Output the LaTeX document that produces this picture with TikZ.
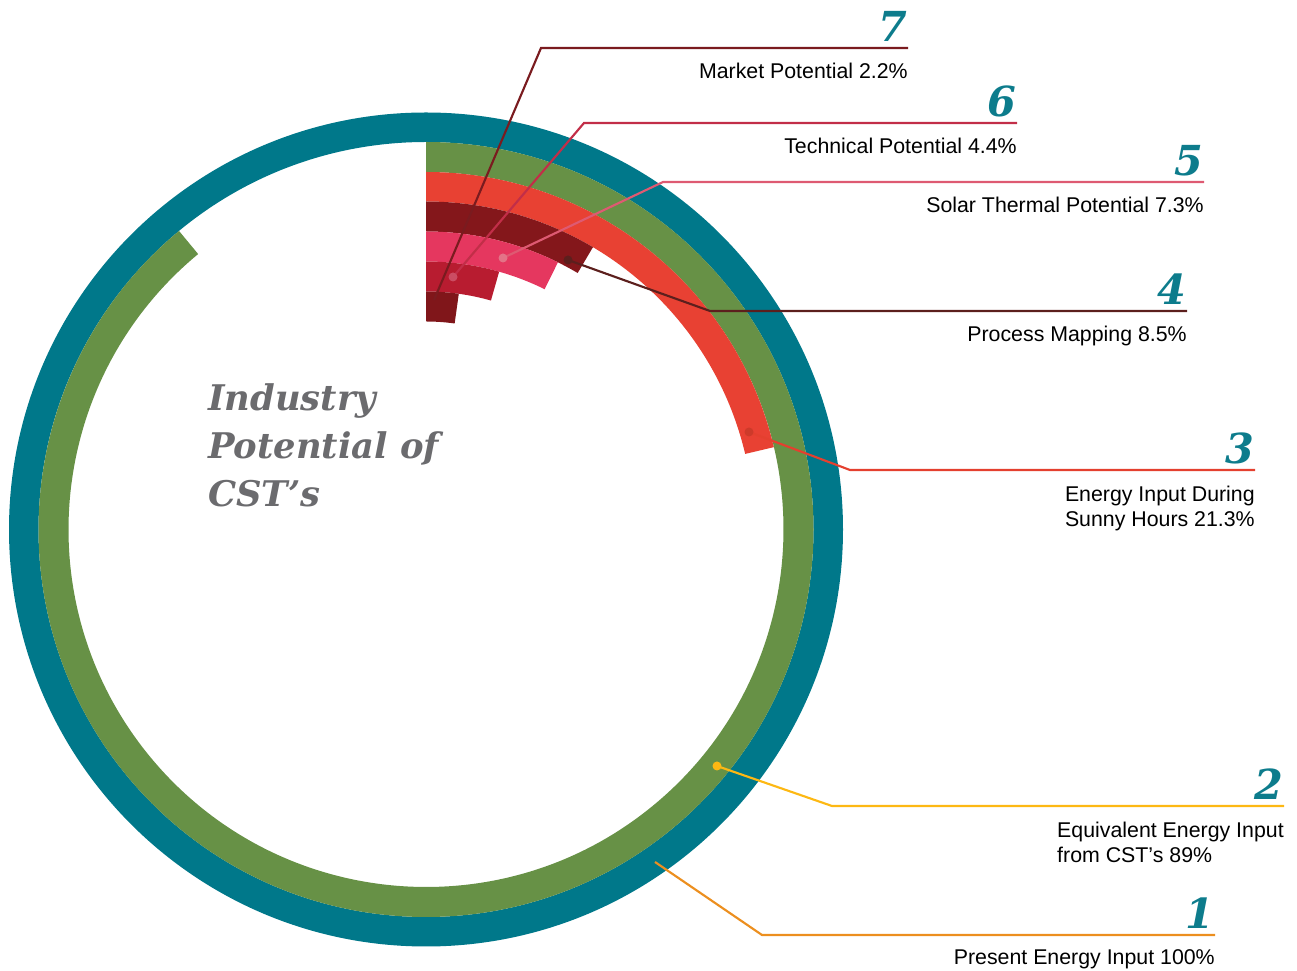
\documentclass[tikz,border=0pt]{standalone}
\usepackage{fontspec}
\setmainfont{Liberation Sans}
\newfontfamily\numfont{DejaVu Serif}

\definecolor{ringteal}{HTML}{00788A}
\definecolor{ringgreen}{HTML}{679146}
\definecolor{ringred}{HTML}{E84133}
\definecolor{ringmaroon}{HTML}{84171B}
\definecolor{ringpink}{HTML}{E5375F}
\definecolor{ringcrimson}{HTML}{B81C30}
\definecolor{ringdark}{HTML}{80161A}
\definecolor{numteal}{HTML}{0D7C8C}
\definecolor{titlegray}{HTML}{6B6B6E}
\definecolor{leadseven}{HTML}{7A1B1F}
\definecolor{leadsix}{HTML}{C22E48}
\definecolor{leadfive}{HTML}{DE5A72}
\definecolor{leadfour}{HTML}{5C1F1D}
\definecolor{leadthree}{HTML}{E4402F}
\definecolor{leadtwo}{HTML}{FDB813}
\definecolor{leadone}{HTML}{EC8F1F}

\begin{document}
\begin{tikzpicture}[x=0.75pt, y=0.75pt,
    lead/.style={line width=1.6pt},
    num/.style={anchor=base east, inner sep=0pt, text=numteal,
      font=\numfont\bfseries\itshape\fontsize{31}{31}\selectfont},
    lab/.style={anchor=north east, inner sep=0pt, align=left,
      font=\fontsize{16}{18.75}\selectfont}]
    \useasboundingbox (0,0) rectangle (1297,971);
    \coordinate (C) at (426,441.5);

    % リング
    \fill[ringteal, even odd rule] (C) circle (417) (C) circle (387.5);
    \fill[ringgreen] (C) ++(90:387.5) arc (90:-230.4:387.5) -- ++(-230.4:-30) arc (-230.4:90:357.5) -- cycle;
    \fill[ringred] (C) ++(90:357.5) arc (90:13.32:357.5) -- ++(13.32:-29.5) arc (13.32:90:328) -- cycle;
    \fill[ringmaroon] (C) ++(90:328) arc (90:59.4:328) -- ++(59.4:-30) arc (59.4:90:298) -- cycle;
    \fill[ringpink] (C) ++(90:298) arc (90:63.72:298) -- ++(63.72:-30) arc (63.72:90:268) -- cycle;
    \fill[ringcrimson] (C) ++(90:268) arc (90:74.16:268) -- ++(74.16:-30) arc (74.16:90:238) -- cycle;
    \fill[ringdark] (C) ++(90:238) arc (90:82.08:238) -- ++(82.08:-30) arc (82.08:90:208) -- cycle;

    \node[anchor=north west, inner sep=0pt, align=left, text=titlegray,
      font=\numfont\bfseries\itshape\fontsize{26.5}{36}\selectfont] (title) at (208,588)
      {Industry\\Potential of\\CST’s};

    % 引き出し線の点
    \coordinate (d7) at (434,671);
    \coordinate (d6) at (453,694);
    \coordinate (d5) at (503,713);
    \coordinate (d4) at (568,711);
    \coordinate (d3) at (749,539);
    \coordinate (d2) at (717,205);
    \coordinate (d1) at (655,109);
    \coordinate (k7) at (541,923);
    \coordinate (k6) at (584,848);
    \coordinate (k5) at (663,789);
    \coordinate (k4) at (710,660);
    \coordinate (k3) at (850,501);
    \coordinate (k2) at (832,165);
    \coordinate (k1) at (762,36);
    \coordinate (e7) at (908,923);
    \coordinate (e6) at (1017,848);
    \coordinate (e5) at (1204,789);
    \coordinate (e4) at (1187,660);
    \coordinate (e3) at (1255,501);
    \coordinate (e2) at (1284,165);
    \coordinate (e1) at (1215,36);

    \draw[lead, leadseven] (d7) -- (k7) -- (e7);
    \draw[lead, leadsix] (d6) -- (k6) -- (e6);
    \draw[lead, leadfive] (d5) -- (k5) -- (e5);
    \draw[lead, leadfour] (d4) -- (k4) -- (e4);
    \draw[lead, leadthree] (d3) -- (k3) -- (e3);
    \draw[lead, leadtwo] (d2) -- (k2) -- (e2);
    \draw[lead, leadone] (d1) -- (k1) -- (e1);
    \fill[leadsix!85!white] (d6) circle (4.5);
    \fill[leadfive!85!white] (d5) circle (4.5);
    \fill[leadfour] (d4) circle (4.5);
    \fill[leadthree!90!black] (d3) circle (4.5);
    \fill[leadtwo] (d2) circle (4.5);

    % 番号とラベル
    \node[num] (n7) at ([yshift=5]e7) {7};
    \node[num] (n6) at ([yshift=5]e6) {6};
    \node[num] (n5) at ([yshift=5]e5) {5};
    \node[num] (n4) at ([yshift=5]e4) {4};
    \node[num] (n3) at ([yshift=5]e3) {3};
    \node[num] (n2) at ([yshift=5]e2) {2};
    \node[num] (n1) at ([yshift=5]e1) {1};
    \node[lab] (l7) at ([yshift=-11]e7) {Market Potential 2.2\%};
    \node[lab] (l6) at ([yshift=-11]e6) {Technical Potential 4.4\%};
    \node[lab] (l5) at ([yshift=-11]e5) {Solar Thermal Potential 7.3\%};
    \node[lab] (l4) at ([yshift=-11]e4) {Process Mapping 8.5\%};
    \node[lab] (l3) at ([yshift=-12]e3) {Energy Input During\\Sunny Hours 21.3\%};
    \node[lab] (l2) at ([yshift=-12]e2) {Equivalent Energy Input\\from CST’s 89\%};
    \node[lab] (l1) at ([yshift=-11]e1) {Present Energy Input 100\%};
\end{tikzpicture}
\end{document}
